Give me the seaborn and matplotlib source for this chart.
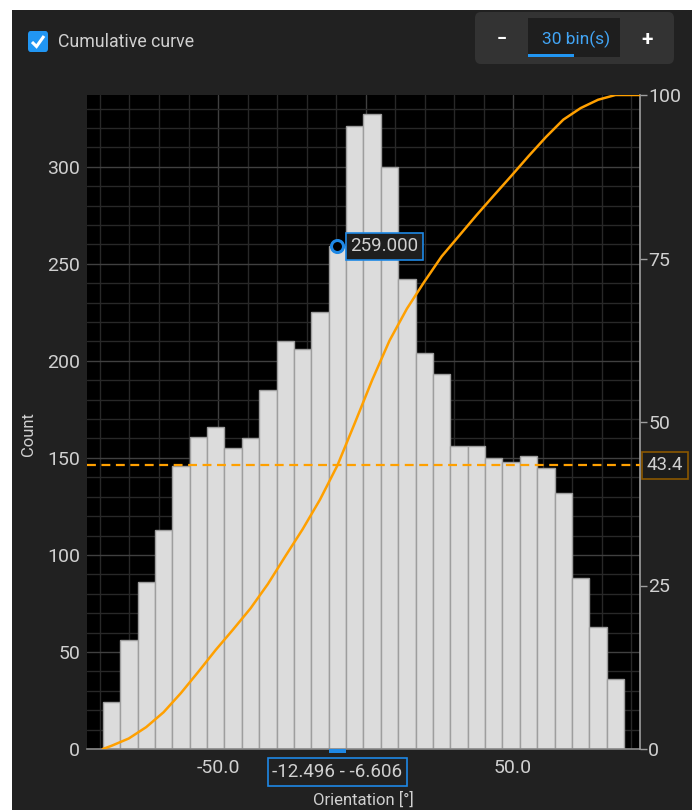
import numpy as np
import pandas as pd
import matplotlib
matplotlib.use("Agg")
import matplotlib.pyplot as plt
import seaborn as sns
from matplotlib.patches import FancyBboxPatch, Rectangle
from matplotlib.lines import Line2D
from matplotlib.ticker import MultipleLocator, FuncFormatter

# orientation histogram, 30 bins
bin_start = -89.066
bin_end = 87.634
n_bins = 30
counts = [24, 56, 86, 113, 146, 161, 166, 155, 160, 185,
          210, 206, 225, 259, 321, 327, 300, 242, 204, 193,
          156, 156, 150, 148, 151, 145, 132, 88, 63, 36]
hover_bin = 13
hover_range = "-12.496 - -6.606"
count_ticks = [0, 50, 100, 150, 200, 250, 300]
pct_ticks = [0, 25, 50, 75, 100]
x_range = (-94.4, 93.0)
y_range = (0, 337)

W, H = 698, 810
BG = "#212121"
TXT = "#d0d0d0"
ORANGE = "#ffa000"
BLUE = "#2196f3"

sns.set_style("dark")
plt.rcParams['font.family'] = ['Roboto', 'DejaVu Sans']
plt.rcParams['axes.unicode_minus'] = False


def fx(x):
    return x / W


def fy(y):
    return 1 - y / H


fig = plt.figure(figsize=(W / 100, H / 100), dpi=100, facecolor="white")

# dark panel
fig.patches.append(Rectangle((fx(12), 0), fx(692) - fx(12), fy(10), transform=fig.transFigure,
                             facecolor=BG, edgecolor="none", zorder=-2))

ax = fig.add_axes([fx(87), fy(749), fx(640) - fx(87), fy(95) - fy(749)])
ax.set_facecolor("black")

edges = np.linspace(bin_start, bin_end, n_bins + 1)
centers = (edges[:-1] + edges[1:]) / 2
df = pd.DataFrame({"orientation": centers, "count": counts})

sns.histplot(data=df, x="orientation", weights="count", bins=n_bins,
             binrange=(bin_start, bin_end), ax=ax,
             color="#dcdcdc", edgecolor="#9e9e9e", linewidth=1, alpha=1, zorder=2)

ax.set_xlim(*x_range)
ax.set_ylim(*y_range)
ax.xaxis.set_major_locator(MultipleLocator(50))
ax.xaxis.set_minor_locator(MultipleLocator(10))
ax.yaxis.set_major_locator(MultipleLocator(50))
ax.yaxis.set_minor_locator(MultipleLocator(10))
ax.set_yticks(count_ticks)
ax.grid(which="major", color="#404040", lw=1)
ax.grid(which="minor", color="#282828", lw=1)
ax.set_axisbelow(True)
ax.xaxis.set_major_formatter(FuncFormatter(lambda v, p: "" if abs(v) < 1e-9 else f"{v:.1f}"))
ax.tick_params(axis="both", which="both", length=0, labelcolor=TXT, labelsize=14)
ax.tick_params(axis="x", pad=7)
ax.tick_params(axis="y", pad=5)
for s in ["left", "top", "right"]:
    ax.spines[s].set_visible(False)
ax.spines["bottom"].set_color("#8a8a8a")
ax.spines["bottom"].set_linewidth(1.2)
ax.set_xlabel("")
ax.set_ylabel("")

# hovered bin marker + value tooltip
hx = centers[hover_bin]
hy = counts[hover_bin]
ax.scatter([hx], [hy], s=75, facecolor="black", edgecolor="#1e88e5", linewidth=2.2, zorder=5)
ax.annotate(f"{hy:.3f}", xy=(hx, hy), xytext=(13, 0), textcoords="offset pixels",
            ha="left", va="center", color=TXT, fontsize=13.5, zorder=6,
            bbox=dict(boxstyle="square,pad=0.25", fc="#1e1e1e", ec="#1e88e5", lw=1.2))

# hovered bin on the x axis
ax.add_patch(Rectangle((edges[hover_bin], -0.006), edges[hover_bin + 1] - edges[hover_bin], 0.006,
                       transform=ax.get_xaxis_transform(), facecolor="#1e88e5",
                       edgecolor="none", clip_on=False, zorder=6))
ax.annotate(hover_range, xy=(hx, 0), xycoords=("data", "axes fraction"), xytext=(0, -23),
            textcoords="offset pixels", ha="center", va="center", color=TXT, fontsize=13.5,
            zorder=6, annotation_clip=False,
            bbox=dict(boxstyle="square,pad=0.25", fc=BG, ec="#1e88e5", lw=1.2))

# cumulative curve
cum = np.cumsum(counts) / np.sum(counts) * 100
cx = np.concatenate([[edges[0]], centers, [x_range[1]]])
cy = np.concatenate([[0], cum, [100]])
ax2 = ax.twinx()
sns.lineplot(x=cx, y=cy, ax=ax2, color=ORANGE, lw=1.8, zorder=4)
ax2.set_ylim(0, 100)
ax2.set_yticks(pct_ticks)
ax2.grid(False)
ax2.tick_params(axis="y", direction="out", length=5, width=1, color="#9e9e9e",
                labelcolor=TXT, labelsize=14, pad=1)
for s in ["left", "top", "bottom"]:
    ax2.spines[s].set_visible(False)
ax2.spines["right"].set_color("#9e9e9e")
ax2.spines["right"].set_linewidth(1.2)

hover_pct = cum[hover_bin]
ax2.axhline(hover_pct, color=ORANGE, lw=1.6, ls=(0, (4, 2.5)), zorder=3)
ax2.annotate(f"{hover_pct:.1f}", xy=(1, hover_pct), xycoords=ax2.get_yaxis_transform(),
             xytext=(25, 0), textcoords="offset pixels", ha="center", va="center",
             color=TXT, fontsize=13.5, annotation_clip=False,
             bbox=dict(boxstyle="square,pad=0.25", fc="#1c1c1c", ec="#8a5700", lw=1.2))

# axis titles
fig.text(fx(28), fy(434), "Count", rotation=90, ha="center", va="center", color=TXT, fontsize=12)
fig.text(fx(363.5), fy(800), "Orientation [°]", ha="center", va="center", color=TXT, fontsize=12)

# checkbox + caption
fig.patches.append(FancyBboxPatch((fx(28), fy(52)), fx(20), fy(31) - fy(52),
                                  boxstyle="round,pad=0,rounding_size=0.004",
                                  transform=fig.transFigure, facecolor=BLUE, edgecolor="none"))
fig.lines.append(Line2D([fx(32), fx(36.5), fx(44)], [fy(42), fy(46.5), fy(36)],
                        transform=fig.transFigure, color="white", lw=2.2,
                        solid_capstyle="butt", solid_joinstyle="miter"))
fig.text(fx(58), fy(42), "Cumulative curve", ha="left", va="center", color=TXT, fontsize=12.8)

# bin count control
fig.patches.append(FancyBboxPatch((fx(475), fy(64)), fx(674) - fx(475), fy(12) - fy(64),
                                  boxstyle="round,pad=0,rounding_size=0.008",
                                  transform=fig.transFigure, facecolor="#333333", edgecolor="none"))
fig.patches.append(Rectangle((fx(528), fy(57)), fx(620) - fx(528), fy(18) - fy(57),
                             transform=fig.transFigure, facecolor="#1e1e1e", edgecolor="none"))
fig.patches.append(Rectangle((fx(528), fy(57)), fx(574) - fx(528), fy(54) - fy(57),
                             transform=fig.transFigure, facecolor=BLUE, edgecolor="none"))
fig.text(fx(576), fy(39), "30 bin(s)", ha="center", va="center", color="#42a5f5", fontsize=12.5)
fig.text(fx(502), fy(39), "−", ha="center", va="center", color="white", fontsize=13, fontweight="bold")
fig.text(fx(647), fy(39), "+", ha="center", va="center", color="white", fontsize=15, fontweight="bold")

fig.savefig("out.png", dpi=100, facecolor=fig.get_facecolor())
